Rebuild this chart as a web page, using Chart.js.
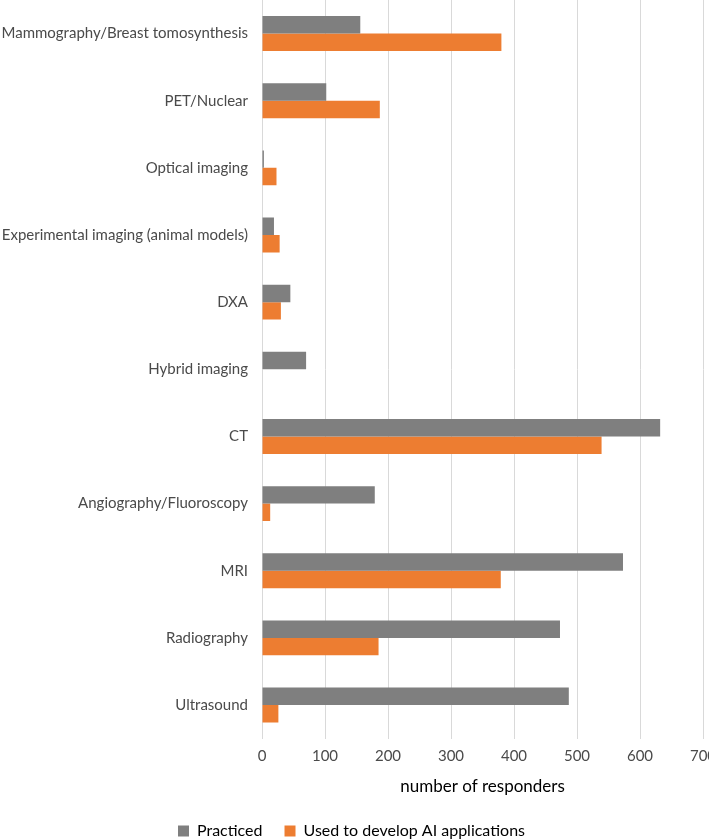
<!DOCTYPE html>
<html>
<head>
<meta charset="utf-8">
<script src="https://cdn.jsdelivr.net/npm/chart.js@4/dist/chart.umd.min.js"></script>
<style>
  html, body { margin: 0; padding: 0; background: #ffffff; }
  #wrap { width: 709px; height: 840px; }
</style>
</head>
<body>
<div id="wrap"><canvas id="chart" width="709" height="840"></canvas></div>
<script>
"use strict";

const categories = [
  'Mammography/Breast tomosynthesis',
  'PET/Nuclear',
  'Optical imaging',
  'Experimental imaging (animal models)',
  'DXA',
  'Hybrid imaging',
  'CT',
  'Angiography/Fluoroscopy',
  'MRI',
  'Radiography',
  'Ultrasound',
];
const practiced = [156, 102, 3, 19, 45, 70, 632, 179, 573, 473, 487];
const used_for_ai = [380, 187, 23, 28, 30, 0, 539, 13, 379, 185, 26];
const x_ticks = [0, 100, 200, 300, 400, 500, 600, 700];

const font_family = "Lato, 'Open Sans', sans-serif";
const text_color = '#4a4a4a';

var chart = new Chart(document.getElementById('chart'), {
  type: 'bar',
  data: {
    labels: categories,
    datasets: [
      {
        label: 'Practiced',
        data: practiced,
        backgroundColor: '#7f7f7f',
        barPercentage: 1.0,
        categoryPercentage: 0.52,
      },
      {
        label: 'Used to develop AI applications',
        data: used_for_ai,
        backgroundColor: '#ed7d31',
        barPercentage: 1.0,
        categoryPercentage: 0.52,
      },
    ],
  },
  options: {
    indexAxis: 'y',
    responsive: false,
    animation: false,
    layout: { padding: { top: 0, right: 6, bottom: -9, left: 0 } },
    plugins: {
      tooltip: { enabled: false },
      legend: {
        position: 'bottom',
        labels: {
          boxWidth: 11,
          boxHeight: 11,
          padding: 22,
          color: '#000000',
          font: { family: font_family, size: 16 },
        },
      },
    },
    scales: {
      x: {
        min: 0,
        max: 700,
        afterBuildTicks: (axis) => { axis.ticks = x_ticks.map(v => ({ value: v })); },
        afterFit: (axis) => { axis.paddingLeft = 0; axis.paddingRight = 0; },
        grid: { color: '#d9d9d9', lineWidth: 1, drawTicks: false },
        border: { display: false },
        ticks: {
          padding: 9,
          color: text_color,
          font: { family: font_family, size: 15 },
        },
        title: {
          display: true,
          text: 'number of responders',
          color: '#000000',
          padding: { top: 2, bottom: 4 },
          font: { family: font_family, size: 17 },
        },
      },
      y: {
        afterFit: (axis) => {
          axis.width = 262;
          axis.paddingTop = 0;
          axis.paddingBottom = 0;
        },
        grid: { display: false, drawTicks: false },
        border: { display: false },
        ticks: {
          padding: 14,
          color: text_color,
          font: { family: font_family, size: 15 },
        },
      },
    },
  },
});
</script>
</body>
</html>
